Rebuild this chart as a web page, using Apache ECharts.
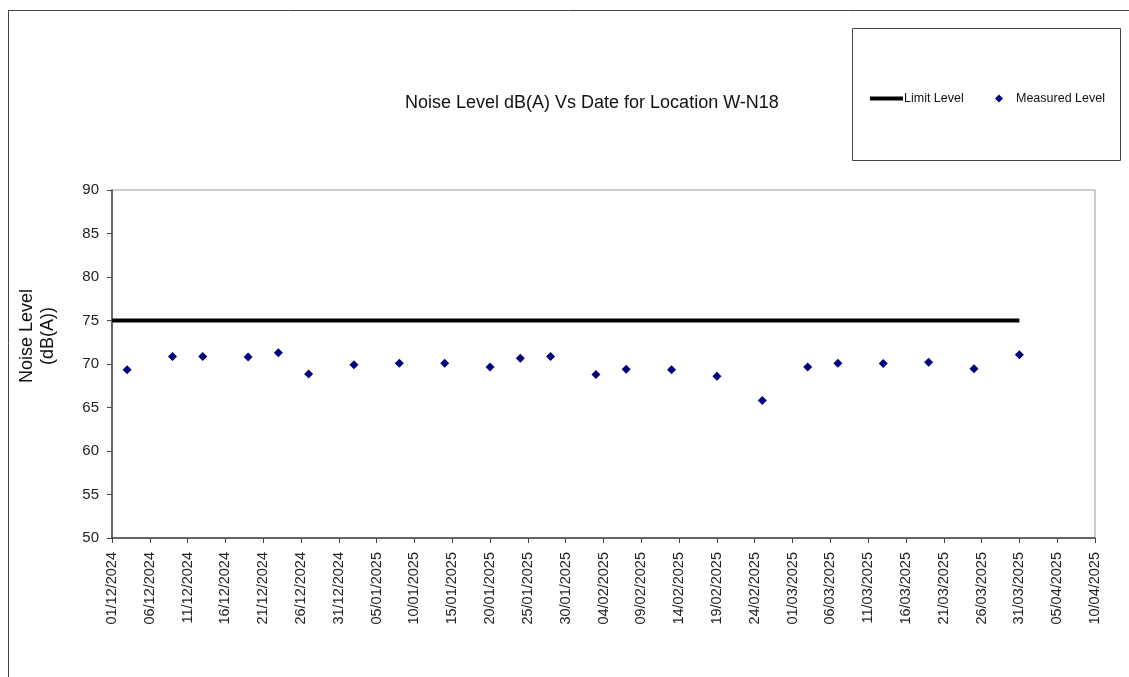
<!DOCTYPE html>
<html>
<head>
<meta charset="utf-8">
<title>Noise Level W-N18</title>
<script src="https://cdn.jsdelivr.net/npm/echarts@6/dist/echarts.min.js"></script>
<style>
  html, body { margin: 0; padding: 0; background: #fff; }
  #chart { width: 1129px; height: 677px; }
</style>
</head>
<body>
<div id="chart"></div>
<script>
// measured dates (dd/mm/yyyy) and levels
const measureDates = ['03/12/2024', '09/12/2024', '13/12/2024', '19/12/2024', '23/12/2024', '27/12/2024',
  '02/01/2025', '08/01/2025', '14/01/2025', '20/01/2025', '24/01/2025', '28/01/2025',
  '03/02/2025', '07/02/2025', '13/02/2025', '19/02/2025', '25/02/2025',
  '03/03/2025', '07/03/2025', '13/03/2025', '19/03/2025', '25/03/2025', '31/03/2025']
const measuredLevel = [69.35, 70.85, 70.85, 70.8, 71.3, 68.85,
  69.9, 70.1, 70.1, 69.65, 70.65, 70.85,
  68.8, 69.4, 69.35, 68.6, 65.8,
  69.65, 70.1, 70.05, 70.2, 69.45, 71.05]
const limitDates = ['01/12/2024', '31/03/2025']
const limitLevel = [75, 75]
const axisStart = '01/12/2024'
const axisDays = 130 // to 10/04/2025
const dayStep = 5

const toUtc = s => {
  const p = s.split('/')
  return Date.UTC(+p[2], +p[1] - 1, +p[0])
}
const DAY = 86400000
const dayOf = s => Math.round((toUtc(s) - toUtc(axisStart)) / DAY)
const pad = n => (n < 10 ? '0' : '') + n
const dateLabel = v => {
  const d = new Date(toUtc(axisStart) + v * DAY)
  return pad(d.getUTCDate()) + '/' + pad(d.getUTCMonth() + 1) + '/' + d.getUTCFullYear()
}

const chart = echarts.init(document.getElementById('chart'))
chart.setOption({
  backgroundColor: '#fff',
  animation: false,
  textStyle: { fontFamily: 'Liberation Sans, Arial, sans-serif' },
  title: {
    text: 'Noise Level dB(A) Vs Date for Location W-N18',
    left: 400,
    top: 89,
    textStyle: { fontSize: 18, fontWeight: 'normal', color: '#111' }
  },
  legend: [
    {
      data: ['Limit Level'],
      left: 865,
      top: 87,
      icon: 'rect',
      itemWidth: 33,
      itemHeight: 4,
      itemGap: 0,
      textStyle: { fontSize: 12.5, color: '#111', padding: [0, 0, 0, -4] }
    },
    {
      data: ['Measured Level'],
      left: 990,
      top: 87,
      icon: 'diamond',
      itemWidth: 8,
      itemHeight: 8,
      textStyle: { fontSize: 12.5, color: '#111', padding: [0, 0, 0, 8] }
    }
  ],
  graphic: [
    { type: 'line', shape: { x1: 8, y1: 10.5, x2: 1129, y2: 10.5 }, style: { stroke: '#444', lineWidth: 1 } },
    { type: 'line', shape: { x1: 8.5, y1: 10, x2: 8.5, y2: 677 }, style: { stroke: '#444', lineWidth: 1 } },
    {
      type: 'rect',
      shape: { x: 852.5, y: 28.5, width: 268, height: 132 },
      style: { fill: 'none', stroke: '#444', lineWidth: 1 },
      z: -1
    }
  ],
  grid: {
    left: 112,
    right: 34,
    top: 190,
    bottom: 139,
    show: true,
    borderColor: '#999',
    borderWidth: 1
  },
  xAxis: {
    type: 'value',
    min: 0,
    max: axisDays,
    interval: dayStep,
    axisLine: { onZero: false, lineStyle: { color: '#444', width: 1.5 } },
    axisTick: { show: true, length: 5, lineStyle: { color: '#444' } },
    splitLine: { show: false },
    axisLabel: {
      rotate: 90,
      margin: 14,
      fontSize: 14.5,
      color: '#222',
      formatter: v => dateLabel(v)
    }
  },
  yAxis: {
    type: 'value',
    min: 50,
    max: 90,
    interval: 5,
    name: 'Noise Level\n(dB(A))',
    nameLocation: 'middle',
    nameGap: 53,
    nameRotate: 90,
    nameTextStyle: { fontSize: 18, color: '#111', lineHeight: 21, padding: [0, 0, 0, 56] },
    axisLine: { show: true, lineStyle: { color: '#444', width: 1.5 } },
    axisTick: { show: true, length: 5, lineStyle: { color: '#444' } },
    splitLine: { show: false },
    axisLabel: { fontSize: 15, color: '#222', margin: 13 }
  },
  series: [
    {
      name: 'Limit Level',
      type: 'line',
      data: limitDates.map((d, i) => [dayOf(d), limitLevel[i]]),
      showSymbol: false,
      symbol: 'none',
      color: '#000',
      lineStyle: { color: '#000', width: 4 },
      z: 2
    },
    {
      name: 'Measured Level',
      type: 'scatter',
      data: measureDates.map((d, i) => [dayOf(d), measuredLevel[i]]),
      symbol: 'diamond',
      symbolSize: 9,
      itemStyle: { color: '#00007f', opacity: 1 },
      z: 3
    }
  ]
})
</script>
</body>
</html>
